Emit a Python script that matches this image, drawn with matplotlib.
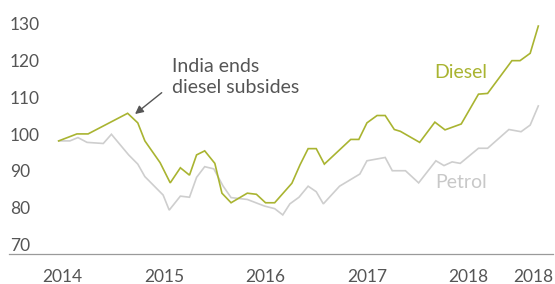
import matplotlib.pyplot as plt
from matplotlib.transforms import blended_transform_factory

# fuel price index, x as decimal years
diesel_x = [2013.96, 2014.14, 2014.25, 2014.64, 2014.74, 2014.81, 2014.96, 2015.06,
            2015.16, 2015.25, 2015.32, 2015.40, 2015.50, 2015.57, 2015.66, 2015.82,
            2015.91, 2016.00, 2016.09, 2016.26, 2016.34, 2016.42, 2016.50, 2016.58,
            2016.84, 2016.92, 2017.00, 2017.10, 2017.18, 2017.27, 2017.33, 2017.52,
            2017.67, 2017.77, 2017.93, 2018.10, 2018.19, 2018.43, 2018.51, 2018.61,
            2018.69]
diesel = [100.8, 102.7, 102.7, 108.3, 105.7, 100.8, 94.9, 89.4,
          93.5, 91.5, 97.0, 98.1, 94.7, 86.6, 84.0, 86.6,
          86.3, 84.0, 84.0, 89.3, 94.3, 98.7, 98.7, 94.5,
          101.2, 101.2, 105.7, 107.7, 107.7, 103.9, 103.4, 100.4,
          105.9, 103.8, 105.4, 113.5, 113.7, 122.6, 122.6, 124.6,
          132.0]

petrol_x = [2013.96, 2014.07, 2014.15, 2014.24, 2014.40, 2014.48, 2014.65, 2014.74,
            2014.81, 2014.99, 2015.05, 2015.16, 2015.25, 2015.32, 2015.40, 2015.49,
            2015.58, 2015.66, 2015.82, 2015.99, 2016.09, 2016.17, 2016.24, 2016.33,
            2016.42, 2016.50, 2016.57, 2016.73, 2016.93, 2017.00, 2017.18, 2017.25,
            2017.38, 2017.51, 2017.68, 2017.76, 2017.84, 2017.92, 2018.10, 2018.19,
            2018.40, 2018.52, 2018.61, 2018.69]
petrol = [100.8, 100.8, 101.7, 100.4, 100.1, 102.6, 97.0, 94.5,
          91.1, 86.1, 82.0, 85.8, 85.5, 90.9, 93.8, 93.2,
          88.6, 85.4, 84.9, 83.1, 82.4, 80.7, 83.7, 85.5,
          88.5, 87.0, 83.7, 88.5, 91.8, 95.4, 96.3, 92.7,
          92.7, 89.4, 95.4, 94.1, 95.1, 94.7, 98.8, 98.8,
          103.9, 103.3, 105.1, 110.3]

year_ticks = [2014, 2015, 2016, 2017, 2018, 2018.64]
year_labels = ['2014', '2015', '2016', '2017', '2018', '2018']
y_labels = [70, 80, 90, 100, 110, 120, 130]

green = '#a9b431'
grey_line = '#cecece'
text_col = '#555555'

plt.rcParams['font.family'] = ['Lato', 'DejaVu Sans']

fig = plt.figure(figsize=(5.55, 2.84), dpi=100)
ax = fig.add_axes([9 / 555, 1 - 254.3 / 284, 544 / 555, (254.3 - 15) / 284])

ax.plot(petrol_x, petrol, color=grey_line, lw=1.2, solid_joinstyle='miter')
ax.plot(diesel_x, diesel, color=green, lw=1.2, solid_joinstyle='miter')

ax.set_xlim(2013.47, 2018.835)
ax.set_ylim(70, 135)

for s in ['top', 'right', 'left']:
    ax.spines[s].set_visible(False)
ax.spines['bottom'].set_color('#9a9a9a')
ax.spines['bottom'].set_linewidth(0.9)

ax.set_yticks([])
ax.set_xticks(year_ticks)
ax.set_xticklabels(year_labels)
ax.tick_params(axis='x', length=0, pad=10.5, labelsize=12.5, labelcolor=text_col)

# y labels sit just above their value
trans = blended_transform_factory(ax.transAxes, ax.transData)
for v in y_labels:
    ax.text(0.002, v + 0.9, str(v), transform=trans, ha='left', va='baseline',
            fontsize=12.5, color=text_col)

ax.text(2017.925, 117.8, 'Diesel', color=green, fontsize=14, ha='center', va='baseline')
ax.text(2017.93, 87.9, 'Petrol', color='#c8c8c8', fontsize=14, ha='center', va='baseline')

ax.text(2015.073, 119.6, 'India ends', color=text_col, fontsize=14, ha='left', va='baseline')
ax.text(2015.073, 113.9, 'diesel subsides', color=text_col, fontsize=14, ha='left', va='baseline')
ax.annotate('', xy=(2014.713, 108.1), xytext=(2014.976, 113.9),
            arrowprops=dict(arrowstyle='-|>', color='#555555', lw=1.0,
                            mutation_scale=12, shrinkA=0, shrinkB=0))

fig.savefig('out.png', dpi=100)
